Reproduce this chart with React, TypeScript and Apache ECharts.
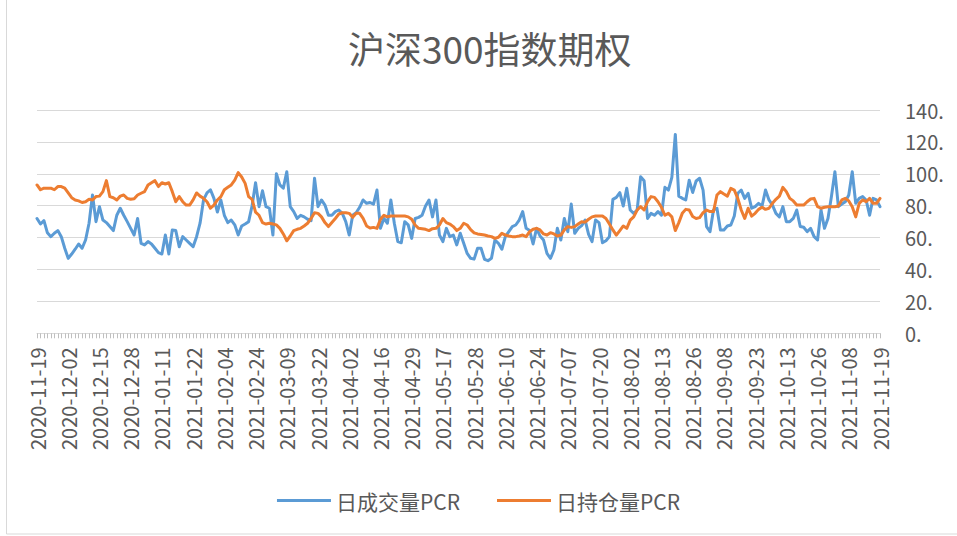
import React, { useEffect, useRef } from "react";
import * as echarts from "echarts";

const titleText = "沪深300指数期权";
const seriesNames = ["日成交量PCR", "日持仓量PCR"];
const yTicks = [0, 20, 40, 60, 80, 100, 120, 140];
const startDate = "2020-11-19";
const endDate = "2021-11-19";
const holidays = [
  "2021-01-01",
  "2021-02-11", "2021-02-12", "2021-02-15", "2021-02-16", "2021-02-17",
  "2021-04-05",
  "2021-05-03", "2021-05-04", "2021-05-05",
  "2021-06-14",
  "2021-09-20", "2021-09-21",
  "2021-10-01", "2021-10-04", "2021-10-05", "2021-10-06", "2021-10-07",
];

// 日成交量PCR
const volumePCR = [
  72, 68.5, 70.6, 63, 60.6, 62.7, 64.4, 60.6, 53.3, 47,
  49.7, 52.7, 56, 53.3, 58.5, 69, 86.7, 70, 79.4, 71,
  69.4, 66.9, 64.4, 74, 78.4, 74, 70, 65.8, 61.6, 72,
  56.4, 55.4, 57.5, 56, 53.3, 50.6, 49.7, 61.6, 49.7, 64.8,
  64.4, 54.3, 60.6, 58.5, 56.4, 54.3, 60.6, 69, 83.6, 88,
  90, 84.6, 76, 83.6, 74, 69.4, 71, 68, 61.6, 67.3,
  68.5, 70, 80, 94.4, 79.4, 89.4, 79.4, 78.4, 61.6, 100,
  93, 91, 101.3, 79.4, 76.3, 72, 74, 73, 71.5, 70.6,
  97.2, 79.4, 83.6, 80.4, 74, 74, 76.3, 77.3, 75.2, 70,
  61.6, 74, 75.6, 79, 83.6, 81.5, 82, 81, 89.8, 65.8,
  72, 69, 83.6, 69, 57.5, 56.8, 70, 68, 59.5, 72,
  72.7, 74, 79.8, 83.6, 73, 83.6, 61.6, 57.5, 65.8, 60.6,
  61.6, 55.4, 62.7, 56.4, 50.1, 47, 46.5, 53.3, 53.3, 46.4,
  45.5, 47, 58.5, 56.4, 52.7, 60.6, 63.7, 66.9, 67.9, 71,
  76.3, 65.8, 64.4, 56, 65.8, 61, 58.5, 50.1, 47, 52.2,
  65.8, 58.5, 72, 63.7, 81, 62.7, 65.8, 67.5, 71, 62,
  57.5, 71, 69.4, 56.8, 58, 60.6, 84, 85.2, 88.2, 79.8,
  90.9, 77.3, 75.2, 77.3, 98.2, 95.7, 72, 75.2, 74, 76.3,
  74, 91.5, 89.8, 97.8, 124.7, 86, 84.6, 83.6, 96, 88.3,
  95.5, 97.2, 89.8, 66.9, 63.7, 77.3, 78.4, 64.8, 64.8, 67.3,
  67.9, 73.5, 87.8, 89.8, 84.6, 87.8, 78.4, 79.4, 81.5, 79.8,
  89.8, 83.6, 80.4, 75.2, 73, 79.4, 70, 70, 72, 77.3,
  67, 66.5, 63.7, 65.8, 60.6, 58.5, 77.3, 65.8, 72, 85.7,
  101.3, 79.4, 81, 82.5, 86.7, 101.3, 81.5, 84.6, 85.7, 83.6,
  74, 84.6, 83.6, 79.4,
];

// 日持仓量PCR
const openInterestPCR = [
  93, 90, 91, 91, 91, 90, 92, 92, 91, 88,
  85, 83.6, 83, 82, 82.5, 84, 83.6, 85.7, 86, 88.8,
  95.7, 85.7, 85, 83.6, 86, 86.7, 84.6, 84, 84.4, 86.7,
  87.8, 88.8, 93, 94.4, 95.7, 92, 94.4, 93.6, 94.4, 88.8,
  82.5, 85.7, 82.5, 80.4, 80.4, 83.6, 88, 86, 84.6, 82.5,
  78.4, 80.4, 83.6, 85.7, 90, 91.5, 93, 96, 100.7, 98,
  94, 85.7, 84, 76, 74, 69.4, 68.5, 69, 68.5, 68,
  65.8, 62.3, 58, 61, 64.4, 65.2, 65.8, 67.3, 69, 72,
  75.6, 75.2, 73, 69.4, 66.9, 69.4, 72, 74.8, 75.6, 75.6,
  75.2, 72.7, 75.2, 75.2, 72, 67.3, 66, 66.4, 65.8, 71.5,
  74, 73, 73.5, 73.5, 73.5, 73.5, 73.5, 73, 71.5, 67.9,
  65.8, 65.6, 65.2, 64.4, 65.6, 65.8, 67.9, 72, 69.4, 68.5,
  66.9, 64.4, 65.8, 69, 67.9, 65, 63, 62.3, 62, 61.6,
  61, 60.6, 59.5, 60.2, 62.7, 61.6, 61, 60.6, 60.6, 61,
  61.6, 60.6, 63.7, 65.2, 65.8, 64.8, 62.3, 61.6, 63.1, 62.3,
  61, 61.6, 64.8, 66.9, 66.4, 66.9, 68.5, 70, 69.7, 71.5,
  73, 73.5, 73.5, 73.5, 72, 68.5, 64.8, 61.6, 64.4, 67.3,
  65.8, 71, 73, 77.3, 79.4, 77.3, 82.5, 85.7, 85.2, 82.5,
  79, 74, 75.2, 73, 64.4, 69.4, 75.2, 77.7, 77.3, 73.2,
  72, 72.5, 75.6, 77.3, 76.3, 76.3, 86.7, 88.8, 87.3, 86,
  90.9, 89.8, 84.6, 77.3, 72, 78.4, 73.5, 75.2, 77.7, 79,
  77.7, 78.4, 81.5, 84, 86, 91.5, 88.8, 84.6, 83, 80.4,
  80.4, 80.4, 82.5, 84.2, 84.6, 79.4, 78.4, 79, 79.4, 79.4,
  79.4, 79.8, 83.6, 84.6, 83, 79.4, 73, 81.5, 83.6, 82.5,
  84.6, 81.5, 81.5, 84.6,
];

function pad(n: number) {
  return n < 10 ? "0" + n : "" + n;
}

function buildTradingDays(): string[] {
  const out: string[] = [];
  const hol = new Set(holidays);
  const [sy, sm, sd] = startDate.split("-").map(Number);
  const [ey, em, ed] = endDate.split("-").map(Number);
  const d = new Date(Date.UTC(sy, sm - 1, sd));
  const end = new Date(Date.UTC(ey, em - 1, ed));
  while (d.getTime() <= end.getTime()) {
    const wd = d.getUTCDay();
    const s = d.getUTCFullYear() + "-" + pad(d.getUTCMonth() + 1) + "-" + pad(d.getUTCDate());
    if (wd !== 0 && wd !== 6 && !hol.has(s)) out.push(s);
    d.setUTCDate(d.getUTCDate() + 1);
  }
  return out;
}

const categories = buildTradingDays();

const FONT = "'Noto Sans CJK SC', 'Noto Sans', sans-serif";
const TEXT = "#595959";

export default function App() {
  const ref = useRef<HTMLDivElement>(null);
  useEffect(() => {
    if (!ref.current) return;
    const chart = echarts.init(ref.current, undefined, { renderer: "svg" });
    chart.setOption({
      animation: false,
      backgroundColor: "#ffffff",
      textStyle: { fontFamily: FONT },
      title: {
        text: titleText,
        left: 343,
        top: 24,
        textStyle: { fontSize: 37, fontWeight: "normal", color: TEXT, fontFamily: FONT },
      },
      legend: {
        data: seriesNames,
        bottom: 20,
        left: "center",
        icon: "rect",
        itemWidth: 54,
        itemHeight: 3,
        itemGap: 37,
        textStyle: { fontSize: 21, color: TEXT, fontFamily: FONT },
      },
      grid: { left: 37, right: 77, top: 110, height: 223.3, containLabel: false },
      xAxis: {
        type: "category",
        data: categories,
        boundaryGap: false,
        axisLine: { show: true, lineStyle: { color: "#d9d9d9", width: 1 } },
        axisTick: { show: true, interval: 0, length: 5, lineStyle: { color: "#bfbfbf" } },
        axisLabel: {
          interval: 8,
          rotate: 90,
          margin: 14,
          fontSize: 20,
          color: TEXT,
          fontFamily: FONT,
        },
        splitLine: { show: false },
      },
      yAxis: {
        type: "value",
        position: "right",
        min: yTicks[0],
        max: yTicks[yTicks.length - 1],
        interval: 20,
        axisLine: { show: false },
        axisTick: { show: false },
        axisLabel: {
          margin: 25,
          fontSize: 20,
          color: TEXT,
          fontFamily: FONT,
          formatter: (v: number) => v + ".",
        },
        splitLine: { show: true, lineStyle: { color: "#d9d9d9", width: 1 } },
      },
      series: [
        {
          name: seriesNames[0],
          type: "line",
          data: volumePCR,
          showSymbol: false,
          symbol: "none",
          lineStyle: { width: 3, color: "#5B9BD5", join: "round", cap: "round" },
          itemStyle: { color: "#5B9BD5" },
        },
        {
          name: seriesNames[1],
          type: "line",
          data: openInterestPCR,
          showSymbol: false,
          symbol: "none",
          lineStyle: { width: 3, color: "#ED7D31", join: "round", cap: "round" },
          itemStyle: { color: "#ED7D31" },
        },
      ],
      graphic: [
        {
          type: "rect",
          shape: { x: 6.5, y: -5, width: 960, height: 539 },
          style: { fill: "none", stroke: "#d9d9d9", lineWidth: 1 },
          silent: true,
          z: -1,
        },
      ],
    });
    return () => chart.dispose();
  }, []);
  return (
    <div
      ref={ref}
      style={{ position: "fixed", left: 0, top: 0, width: 957, height: 536 }}
    />
  );
}
